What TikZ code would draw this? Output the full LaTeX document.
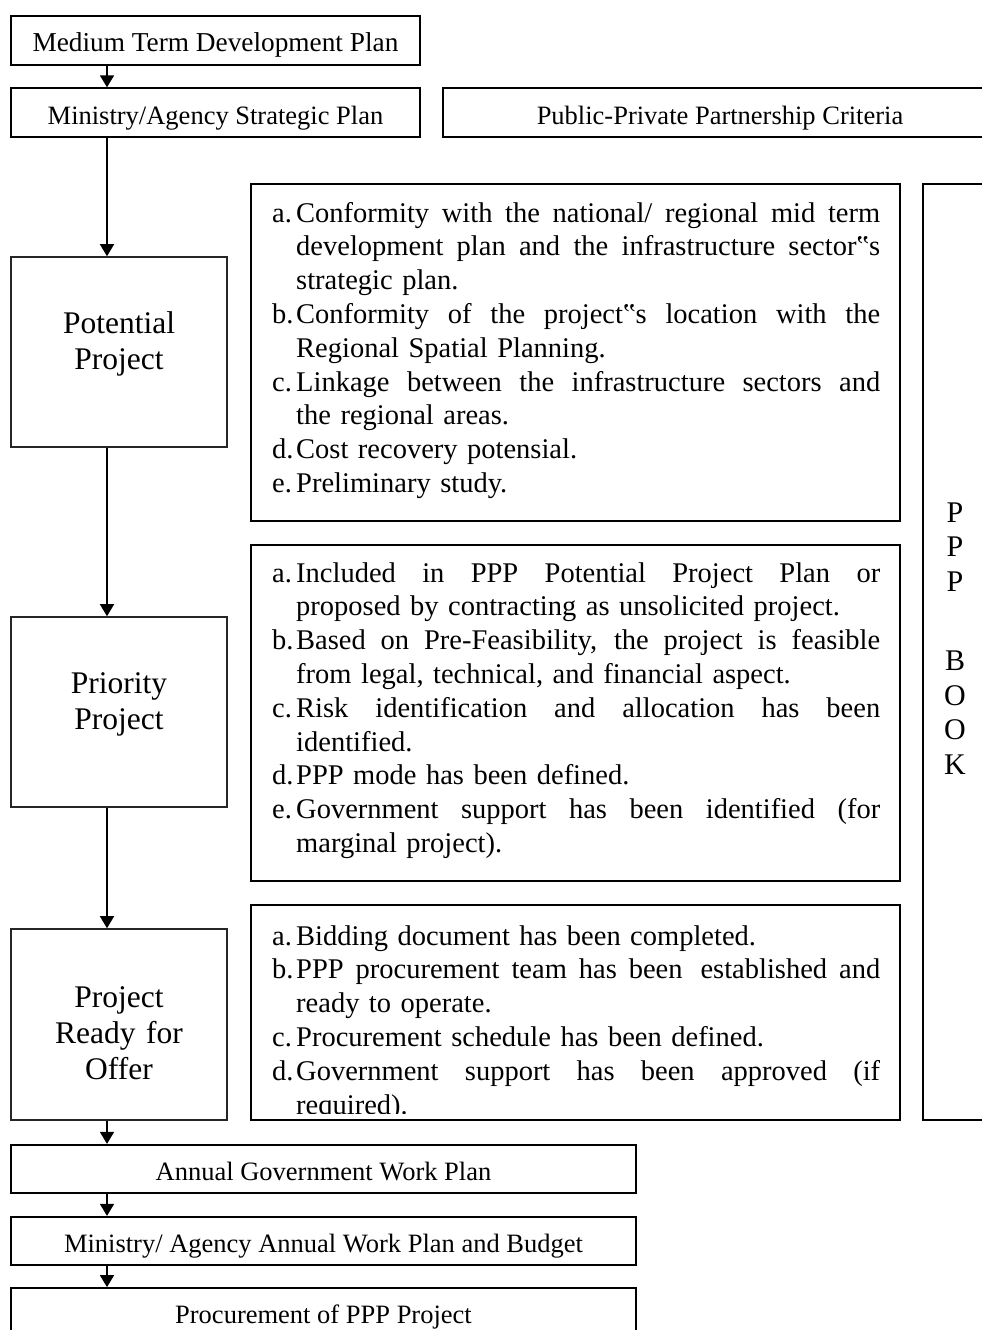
\documentclass[tikz,border=0pt]{standalone}
\usepackage{fontspec}
\setmainfont{Liberation Serif}
\usetikzlibrary{arrows.meta}
\newcommand\fsz[2]{\fontsize{#1pt}{#2pt}\selectfont}
\newcommand\jst[1]{\hbox to 584pt{\spaceskip=\fontdimen2\font plus 1fil\relax #1}}
\newcommand\cl[2]{\makebox[24pt][l]{#1}\jst{#2}}
\newcommand\cn[2]{\makebox[24pt][l]{#1}#2}
\newcommand\cc[1]{\hspace*{24pt}\jst{#1}}
\newcommand\ce[1]{\hspace*{24pt}#1}
\hbadness=10000 \hfuzz=20pt
\begin{document}
\begin{tikzpicture}[x=1pt,y=-1pt,
  bar/.style={draw, line width=1.8pt, inner sep=0pt, minimum height=48.5pt,
    text height=24pt, text depth=1pt, font=\fsz{26.5}{30}},
  lbox/.style={draw=black!85, line width=1.6pt, inner sep=0pt,
    minimum width=216pt},
  ltext/.style={text width=210pt, align=center, inner sep=0pt, font=\fsz{31.5}{36}},
  cbox/.style={draw, line width=1.8pt, inner sep=0pt, minimum width=649pt},
  ctext/.style={text width=608pt, align=left, inner sep=0pt, font=\fsz{28.5}{33.8}},
  arr/.style={line width=1.5pt, -{Triangle[length=12pt,width=14pt]}}]
\useasboundingbox (0,0) rectangle (982,1330);
% top bars
\node[bar, minimum width=409pt, font=\fsz{27.3}{30}] (mtdp) at (215.5,40.5) {Medium Term Development Plan};
\node[bar, minimum width=409pt] (masp) at (215.5,112.5) {Ministry/Agency Strategic Plan};
\node[bar, minimum width=554pt] (pppc) at (720,112.5) {Public-Private Partnership Criteria};
% left stage boxes
\node[lbox, minimum height=190pt] (pot) at (119,352) {};
\node[ltext, anchor=base] (potl) at (119,333) {Potential\\Project};
\node[lbox, minimum height=190pt] (pri) at (119,712) {};
\node[ltext, anchor=base] (pril) at (119,693) {Priority\\Project};
\node[lbox, minimum height=191pt] (rdy) at (119,1024.5) {};
\node[ltext, anchor=base] (rdyl) at (119,1007) {Project\\Ready for\\Offer};
% criteria boxes
\node[cbox, minimum height=337pt] (c1) at (575.5,352.5) {};
\node[ctext, anchor=base west] (c1t) at (272,222) {%
\cl{a.}{Conformity with the national/ regional mid term}\\
\cc{development plan and the infrastructure sector‟s}\\
\ce{strategic plan.}\\
\cl{b.}{Conformity of the project‟s location with the}\\
\ce{Regional Spatial Planning.}\\
\cl{c.}{Linkage between the infrastructure sectors and}\\
\ce{the regional areas.}\\
\cn{d.}{Cost recovery potensial.}\\
\cn{e.}{Preliminary study.}};
\node[cbox, minimum height=336pt] (c2) at (575.5,713) {};
\node[ctext, anchor=base west] (c2t) at (272,582) {%
\cl{a.}{Included in PPP Potential Project Plan or}\\
\ce{proposed by contracting as unsolicited project.}\\
\cl{b.}{Based on Pre-Feasibility, the project is feasible}\\
\ce{from legal, technical, and financial aspect.}\\
\cl{c.}{Risk identification and allocation has been}\\
\ce{identified.}\\
\cn{d.}{PPP mode has been defined.}\\
\cl{e.}{Government support has been identified (for}\\
\ce{marginal project).}};
\node[cbox, minimum height=215pt] (c3) at (575.5,1012.5) {};
\begin{scope}
\clip (c3.north west) rectangle ([yshift=7pt]c3.south east);
\node[ctext, anchor=base west] (c3t) at (272,945) {%
\cn{a.}{Bidding document has been completed.}\\
\cl{b.}{PPP procurement team has been\hspace{6pt} established and}\\
\ce{ready to operate.}\\
\cn{c.}{Procurement schedule has been defined.}\\
\cl{d.}{Government support has been approved (if}\\
\ce{required).}};
\end{scope}
% PPP BOOK
\node[draw, line width=1.8pt, inner sep=0pt, minimum width=77pt, minimum height=936pt] (book) at (961.5,652) {};
\node[text width=40pt, align=center, inner sep=0pt, font=\fsz{30}{34.5}, anchor=base] (bookl) at (955,522) {P\\P\\P\\[45pt]B\\O\\O\\K};
% bottom bars
\node[bar, minimum width=625pt] (agwp) at (323.5,1169) {Annual Government Work Plan};
\node[bar, minimum width=625pt] (maawp) at (323.5,1241) {Ministry/ Agency Annual Work Plan and Budget};
\node[bar, minimum width=625pt] (proc) at (323.5,1312.25) {Procurement of PPP Project};
% arrows
\coordinate (ax) at (107,0);
\draw[arr] (mtdp.south -| ax) -- (masp.north -| ax);
\draw[arr] (masp.south -| ax) -- (pot.north -| ax);
\draw[arr] (pot.south -| ax) -- (pri.north -| ax);
\draw[arr] (pri.south -| ax) -- (rdy.north -| ax);
\draw[arr] (rdy.south -| ax) -- (agwp.north -| ax);
\draw[arr] (agwp.south -| ax) -- (maawp.north -| ax);
\draw[arr] (maawp.south -| ax) -- (proc.north -| ax);
\end{tikzpicture}
\end{document}
